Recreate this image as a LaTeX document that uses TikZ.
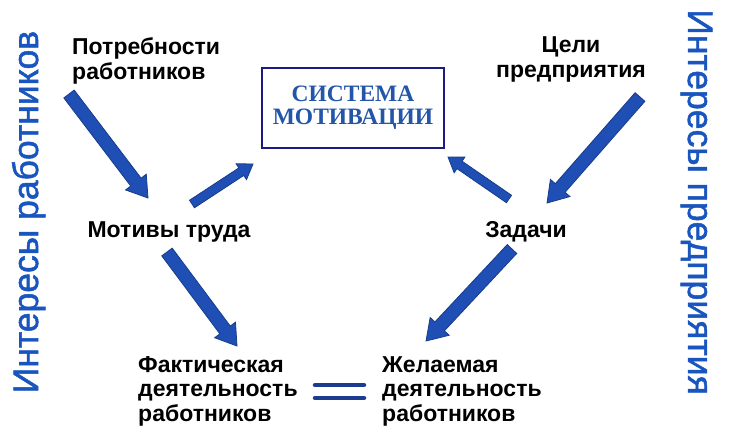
\documentclass[tikz,border=0pt]{standalone}
\usepackage{fontspec}
\setmainfont{Liberation Sans}
\newfontfamily\serifbox{Liberation Serif}
\newfontfamily\sidefont[FakeBold=1.4]{Liberation Sans}
\usetikzlibrary{calc}
\definecolor{sideblue}{RGB}{25,85,190}
\definecolor{arrfill}{RGB}{31,79,180}
\definecolor{arredge}{RGB}{23,60,140}
\definecolor{boxedge}{RGB}{26,26,128}
\definecolor{boxtext}{RGB}{35,86,168}
\definecolor{eqblue}{RGB}{27,60,143}
\tikzset{
  lbl/.style={inner sep=0pt, font=\bfseries\fontsize{23pt}{24.5pt}\selectfont, text=black},
  sidetxt/.style={inner sep=0pt, font=\sidefont\fontsize{35.5pt}{40pt}\selectfont, text=sideblue},
  sysbox/.style={draw=boxedge, line width=2.2pt, minimum width=182pt, minimum height=80pt, inner sep=0pt, align=center,
     font=\serifbox\bfseries\fontsize{23.5pt}{23pt}\selectfont, text=boxtext},
  barrow/.style={fill=arrfill, draw=arredge, line width=0.8pt, line join=miter},
  eqline/.style={draw=eqblue, line width=4.5pt, line cap=round}
}
\newcommand\blockarr[5]{%
  \coordinate (tmpN) at ($(#2)!#5!(#1)$);
  \draw[barrow] ($(#1)!#3!90:(#2)$) -- ($(tmpN)!#3!90:(#2)$) -- ($(tmpN)!#4!90:(#2)$) -- (#2)
     -- ($(tmpN)!#4!-90:(#2)$) -- ($(tmpN)!#3!-90:(#2)$) -- ($(#1)!#3!-90:(#2)$) -- cycle;}
\begin{document}
\begin{tikzpicture}[x=1pt,y=-1pt]
\useasboundingbox (0,0) rectangle (730,437);
\fill[white] (0,0) rectangle (730,437);
% side texts
\node[sidetxt, rotate=90, anchor=base] (sideL) at (38,212) {Интересы работников};
\node[sidetxt, rotate=-90, anchor=base] (sideR) at (688,202) {Интересы предприятия};
% labels (base anchor = baseline of last line)
\node[lbl, anchor=base west, align=left] (potr) at (72,79) {Потребности\\работников};
\node[lbl, anchor=base, align=center] (celi) at (571,77) {Цели\\предприятия};
\node[lbl, anchor=base] (motiv) at (169,237) {Мотивы труда};
\node[lbl, anchor=base] (zad) at (526,237) {Задачи};
\node[lbl, anchor=base west, align=left] (fakt) at (138,421) {Фактическая\\деятельность\\работников};
\node[lbl, anchor=base west, align=left] (zhel) at (382,421) {Желаемая\\деятельность\\работников};
\node[sysbox] (sys) at (353,108) {СИСТЕМА\\МОТИВАЦИИ};
% equals sign
\coordinate (eq1a) at (315,385); \coordinate (eq1b) at (364,385);
\coordinate (eq2a) at (315,398); \coordinate (eq2b) at (364,398);
\draw[eqline] (eq1a) -- (eq1b);
\draw[eqline] (eq2a) -- (eq2b);
% arrow end points
\coordinate (a1s) at (69,94);   \coordinate (a1e) at (148,198);
\coordinate (a2s) at (192,204); \coordinate (a2e) at (253,164);
\coordinate (a3s) at (167,252); \coordinate (a3e) at (237,346);
\coordinate (a4s) at (640,97);  \coordinate (a4e) at (547,203);
\coordinate (a5s) at (509,199); \coordinate (a5e) at (448,157);
\coordinate (a6s) at (512,249); \coordinate (a6e) at (426,341);
\blockarr{a1s}{a1e}{6.5pt}{13pt}{20pt}
\blockarr{a2s}{a2e}{4.5pt}{9.5pt}{14pt}
\blockarr{a3s}{a3e}{6.5pt}{13pt}{20pt}
\blockarr{a4s}{a4e}{6.5pt}{13pt}{20pt}
\blockarr{a5s}{a5e}{4.5pt}{9.5pt}{14pt}
\blockarr{a6s}{a6e}{6.5pt}{13pt}{20pt}
\end{tikzpicture}
\end{document}
